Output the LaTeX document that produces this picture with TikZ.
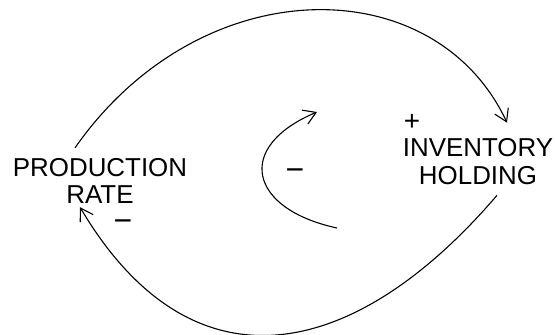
\documentclass[tikz,border=0pt]{standalone}
\usepackage{fontspec}
\setmainfont{Liberation Sans}
\usetikzlibrary{arrows.meta}
\definecolor{LoopClr}{rgb}{0,0,0}

\begin{document}
\begin{tikzpicture}[x=1bp,y=-1bp,
  lbl/.style={font=\fontsize{26}{28}\selectfont,align=center,inner sep=0pt},
  sgn/.style={font=\fontsize{32}{34}\selectfont,inner sep=0pt},
  lnk/.style={line width=1.1bp,color=LoopClr,-{Straight Barb[length=12bp,width=15bp]}}]
\useasboundingbox (0,0) rectangle (555,334);

\node[lbl] (PR) at (100,181) {PRODUCTION\\RATE};
\node[lbl] (IH) at (478,162) {INVENTORY\\HOLDING};

\node[sgn,font=\fontsize{28}{30}\selectfont] (pIH) at (412,122) {+};
\node[sgn] (mPR) at (123,226) {−};
\node[sgn] (mLoop) at (295,175) {−};

\coordinate (LoopA) at (337,228);
\coordinate (LoopB) at (317,112);

\draw[lnk] ([xshift=-25bp,yshift=10bp]PR.north) .. controls +(126,-180) and +(-72,-154) .. ([xshift=29bp,yshift=16bp]IH.north);
\draw[lnk] ([xshift=19bp,yshift=-10bp]IH.south) .. controls +(-143,167) and +(112,189) .. ([xshift=-20bp,yshift=-3bp]PR.south);
\draw[lnk] (LoopA) .. controls +(-88,-19) and +(-83,35) .. (LoopB);

\end{tikzpicture}
\end{document}
